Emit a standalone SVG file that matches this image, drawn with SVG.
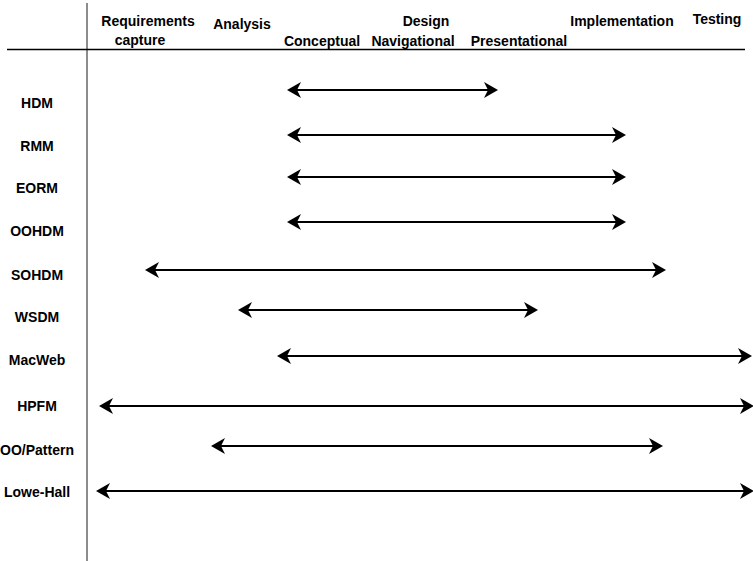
<svg xmlns="http://www.w3.org/2000/svg" width="753" height="561" viewBox="0 0 753 561">
<style>
text{font-family:"Liberation Sans",Arial,sans-serif;font-weight:bold;font-size:14px;fill:#000;text-anchor:middle}
.conn line{stroke:#000;stroke-width:2.2;marker-start:url(#ah);marker-end:url(#ah)}
</style>
<defs>
<marker id="ah" viewBox="0 0 14 16" refX="8" refY="8" markerWidth="14" markerHeight="16" markerUnits="userSpaceOnUse" orient="auto-start-reverse">
<path d="M14,8 L0,0 L4,8 L0,16 Z" fill="#000"/>
</marker>
</defs>
<rect width="753" height="561" fill="#fff"/>
<g id="axes">
<line x1="87" y1="3" x2="87" y2="561" stroke="#666" stroke-width="1.5"/>
<line x1="7" y1="49.5" x2="745" y2="49.5" stroke="#000" stroke-width="1.5"/>
</g>
<g id="header">
<text x="148" y="26">Requirements</text>
<text x="140" y="45">capture</text>
<text x="242" y="29">Analysis</text>
<text x="426" y="26">Design</text>
<text x="322" y="46">Conceptual</text>
<text x="413" y="46">Navigational</text>
<text x="519" y="46">Presentational</text>
<text x="622" y="26">Implementation</text>
<text x="717" y="24">Testing</text>
</g>
<g id="n-hdm"><text x="37" y="108">HDM</text></g>
<g id="n-rmm"><text x="37" y="151">RMM</text></g>
<g id="n-eorm"><text x="37" y="193">EORM</text></g>
<g id="n-oohdm"><text x="37" y="236">OOHDM</text></g>
<g id="n-sohdm"><text x="37" y="280">SOHDM</text></g>
<g id="n-wsdm"><text x="37" y="322">WSDM</text></g>
<g id="n-macweb"><text x="37" y="365">MacWeb</text></g>
<g id="n-hpfm"><text x="37" y="411">HPFM</text></g>
<g id="n-oopattern"><text x="37" y="455">OO/Pattern</text></g>
<g id="n-lowehall"><text x="37" y="497">Lowe-Hall</text></g>
<g id="connectors" class="conn">
<line x1="293" y1="90" x2="492" y2="90"/>
<line x1="293" y1="135" x2="620" y2="135"/>
<line x1="293" y1="177" x2="620" y2="177"/>
<line x1="293" y1="222" x2="620" y2="222"/>
<line x1="151" y1="270" x2="660" y2="270"/>
<line x1="244" y1="310" x2="532" y2="310"/>
<line x1="283" y1="356" x2="746" y2="356"/>
<line x1="105" y1="406" x2="748" y2="406"/>
<line x1="217" y1="446" x2="657" y2="446"/>
<line x1="102" y1="491" x2="748" y2="491"/>
</g>
</svg>
